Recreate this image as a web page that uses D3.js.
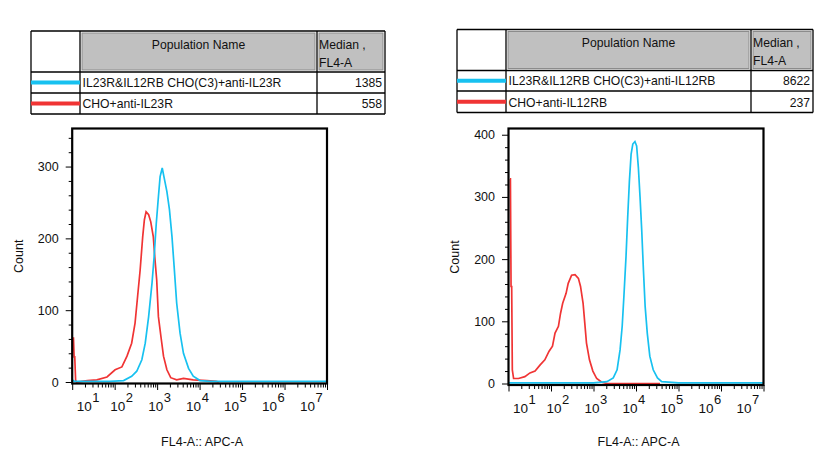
<!DOCTYPE html>
<html><head><meta charset="utf-8">
<script src="https://cdn.jsdelivr.net/npm/d3@7"></script>
<style>
body{margin:0;background:#fff;}
svg text{font-family:"Liberation Sans",Arial,sans-serif;fill:#111;}
</style></head><body>
<svg id="c" width="828" height="469"></svg>
<script>
// ---------- data ----------
const leftPopulations = ["IL23R&IL12RB CHO(C3)+anti-IL23R", "CHO+anti-IL23R"];
const leftMedians = [1385, 558];
const rightPopulations = ["IL23R&IL12RB CHO(C3)+anti-IL12RB", "CHO+anti-IL12RB"];
const rightMedians = [8622, 237];
const tableHeader = ["Population Name", "Median ,", "FL4-A"];
const decadeExponents = [1, 2, 3, 4, 5, 6, 7];
const yTicksLeft = [0, 100, 200, 300];
const yTicksRight = [0, 100, 200, 300, 400];
const yAxisTitle = "Count";
const xAxisTitle = "FL4-A:: APC-A";
const seriesColors = ["#17c1f0", "#f03434"]; // blue (sample), red (control)

// histograms: log10(FL4-A) positions and counts
const leftBlueLog = [1.0, 1.05, 1.5, 1.89, 2.21, 2.40, 2.52, 2.64, 2.72, 2.80, 2.88, 2.93, 2.98, 3.03, 3.07, 3.12, 3.16, 3.23, 3.29, 3.35, 3.40, 3.46, 3.54, 3.62, 3.74, 3.85, 4.01, 4.25, 5.0, 7.0];
const leftBlueCount = [3, 1, 1, 1, 2, 8, 15, 31, 54, 91, 138, 175, 221, 258, 286, 298, 286, 265, 240, 202, 161, 110, 68, 40, 19, 8, 2, 1, 1, 1];
const leftRedLog = [1.02, 1.03, 1.045, 1.06, 1.08, 1.1, 1.36, 1.58, 1.82, 2.01, 2.17, 2.29, 2.40, 2.48, 2.54, 2.60, 2.66, 2.70, 2.74, 2.80, 2.85, 2.91, 2.95, 2.99, 3.03, 3.09, 3.15, 3.23, 3.32, 3.46, 3.62, 3.85, 4.17, 4.39, 4.45];
const leftRedCount = [61, 61, 35, 35, 3, 0, 2, 3, 7, 17, 21, 36, 54, 82, 119, 156, 202, 226, 237, 233, 223, 202, 170, 142, 91, 63, 36, 17, 6, 3, 5, 3, 2, 1, 0];
const rightBlueLog = [1.0, 2.0, 3.0, 3.315, 3.465, 3.555, 3.625, 3.675, 3.715, 3.765, 3.805, 3.845, 3.885, 3.925, 3.975, 4.015, 4.055, 4.095, 4.135, 4.175, 4.215, 4.265, 4.325, 4.405, 4.505, 4.605, 5.0, 7.0];
const rightBlueCount = [1, 1, 1, 3, 9, 22, 54, 92, 140, 204, 268, 326, 369, 385, 389, 382, 348, 300, 246, 182, 124, 81, 44, 22, 9, 3, 1, 1];
const rightRedLog = [1.035, 1.045, 1.06, 1.075, 1.09, 1.12, 1.235, 1.385, 1.505, 1.625, 1.745, 1.855, 1.955, 2.035, 2.095, 2.175, 2.225, 2.275, 2.355, 2.405, 2.485, 2.565, 2.645, 2.695, 2.755, 2.795, 2.835, 2.905, 2.985, 3.075, 3.195, 3.315, 4.565];
const rightRedCount = [329, 329, 156, 156, 22, 8, 8, 11, 17, 20, 30, 38, 52, 60, 81, 92, 113, 129, 145, 161, 174, 175, 169, 156, 129, 97, 65, 38, 20, 8, 2, 0, 0];

// ---------- layout ----------
const panels = [
  {
    table: {x0: 31, x1: 80, x2: 317, x3: 385, y0: 31, y1: 72, y2: 93, y3: 114},
    plot: {x: 72.2, y: 128.5, w: 254.8, bottom: 382},
    yMax: 353, yTicks: yTicksLeft,
    pops: leftPopulations, meds: leftMedians,
    series: [[leftRedLog, leftRedCount, seriesColors[1]], [leftBlueLog, leftBlueCount, seriesColors[0]]],
    yTitleX: 23
  },
  {
    table: {x0: 457, x1: 506, x2: 751, x3: 813, y0: 29.5, y1: 70.5, y2: 91, y3: 112.5},
    plot: {x: 508.5, y: 128.5, w: 255, bottom: 383.5},
    yMax: 410, yTicks: yTicksRight,
    pops: rightPopulations, meds: rightMedians,
    series: [[rightRedLog, rightRedCount, seriesColors[1]], [rightBlueLog, rightBlueCount, seriesColors[0]]],
    yTitleX: 459
  }
];

const svg = d3.select("#c");
const TABLE_FS = 12.2;

panels.forEach((p, pi) => {
  const g = svg.append("g");
  // ---- table ----
  const t = p.table;
  g.append("rect").attr("x", t.x1 + 2).attr("y", t.y0 + 2).attr("width", t.x2 - t.x1 - 4).attr("height", t.y1 - t.y0 - 4)
    .attr("fill", "#c0c0c0").attr("stroke", "#8c8c8c").attr("stroke-width", 1);
  g.append("rect").attr("x", t.x2 + 2).attr("y", t.y0 + 2).attr("width", t.x3 - t.x2 - 4).attr("height", t.y1 - t.y0 - 4)
    .attr("fill", "#c0c0c0").attr("stroke", "#8c8c8c").attr("stroke-width", 1);
  const lines = [
    [t.x0, t.y0, t.x3, t.y0], [t.x0, t.y3, t.x3, t.y3], [t.x0, t.y0, t.x0, t.y3], [t.x3, t.y0, t.x3, t.y3],
    [t.x1, t.y0, t.x1, t.y3], [t.x2, t.y0, t.x2, t.y3], [t.x0, t.y1, t.x3, t.y1], [t.x0, t.y2, t.x3, t.y2]
  ];
  g.selectAll(null).data(lines).enter().append("line")
    .attr("x1", d => d[0]).attr("y1", d => d[1]).attr("x2", d => d[2]).attr("y2", d => d[3])
    .attr("stroke", "#000").attr("stroke-width", 1.3);
  g.append("text").attr("x", (t.x1 + t.x2) / 2).attr("y", t.y0 + 17.5).attr("text-anchor", "middle")
    .attr("font-size", TABLE_FS).text(tableHeader[0]);
  g.append("text").attr("x", t.x2 + 2).attr("y", t.y0 + 17.5).attr("font-size", TABLE_FS).text(tableHeader[1]);
  g.append("text").attr("x", t.x2 + 2).attr("y", t.y0 + 35.5).attr("font-size", TABLE_FS).text(tableHeader[2]);
  const rowBottoms = [t.y2, t.y3];
  const rowTops = [t.y1, t.y2];
  p.pops.forEach((name, i) => {
    const cy = (rowTops[i] + rowBottoms[i]) / 2;
    g.append("line").attr("x1", t.x0).attr("x2", t.x1).attr("y1", cy).attr("y2", cy)
      .attr("stroke", seriesColors[i]).attr("stroke-width", 4);
    g.append("text").attr("x", t.x1 + 2.5).attr("y", rowBottoms[i] - 6).attr("font-size", TABLE_FS).text(name);
    g.append("text").attr("x", t.x3 - 3).attr("y", rowBottoms[i] - 6).attr("font-size", TABLE_FS)
      .attr("text-anchor", "end").text(p.meds[i]);
  });

  // ---- plot ----
  const P = p.plot;
  const x = d3.scaleLog().domain([10, 1e7]).range([P.x, P.x + P.w]);
  const y = d3.scaleLinear().domain([0, p.yMax]).range([P.bottom, P.y]);
  const clipId = "clip" + pi;
  svg.append("clipPath").attr("id", clipId).append("rect")
    .attr("x", P.x).attr("y", P.y).attr("width", P.w).attr("height", P.bottom - P.y + 2);

  const line = d3.line().x(d => x(Math.pow(10, d[0]))).y(d => y(d[1]));
  p.series.forEach(([lg, ct, col]) => {
    const pts = lg.map((v, i) => [v, ct[i]]);
    g.append("path").attr("clip-path", `url(#${clipId})`).attr("d", line(pts))
      .attr("fill", "none").attr("stroke", col).attr("stroke-width", 1.7).attr("stroke-linejoin", "miter");
  });

  // frame
  const axisY = P.bottom + 1.5;
  g.append("rect").attr("x", P.x).attr("y", P.y).attr("width", P.w).attr("height", axisY - P.y)
    .attr("fill", "none").attr("stroke", "#000").attr("stroke-width", 2.2);

  // x axis ticks
  const majorX = decadeExponents.map(k => Math.pow(10, k));
  const minorX = [];
  decadeExponents.slice(0, -1).forEach(k => { for (let m = 2; m <= 9; m++) minorX.push(m * Math.pow(10, k)); });
  const xMinor = g.append("g").attr("transform", `translate(0,${axisY})`)
    .call(d3.axisBottom(x).tickValues(minorX).tickSize(4).tickFormat(""));
  const xMajor = g.append("g").attr("transform", `translate(0,${axisY})`)
    .call(d3.axisBottom(x).tickValues(majorX).tickSize(6.5).tickFormat(""));
  [xMinor, xMajor].forEach(a => { a.select(".domain").remove(); a.selectAll("line").attr("stroke", "#000"); });

  // decade labels (FlowJo-style compressed placement)
  const labelX = d3.scaleLinear().domain([2, 7]).range([P.x + P.w / 6 - 4.5, P.x + P.w - 27]);
  decadeExponents.forEach(k => {
    const lx = k === 1 ? P.x + 4.5 : labelX(k);
    const tx = g.append("text").attr("x", lx).attr("y", axisY + 27.5).attr("font-size", 13.5);
    tx.append("tspan").text("10");
    tx.append("tspan").attr("dy", -9).attr("dx", 0.5).attr("font-size", 13).text(String(k));
  });

  // y axis
  const minorY = d3.range(0, p.yMax + 1, 20).filter(v => v % 100 !== 0);
  const yMinor = g.append("g").attr("transform", `translate(${P.x},0)`)
    .call(d3.axisLeft(y).tickValues(minorY).tickSize(3.5).tickFormat(""));
  const yMajor = g.append("g").attr("transform", `translate(${P.x},0)`)
    .call(d3.axisLeft(y).tickValues(p.yTicks).tickSize(6.5).tickPadding(7));
  [yMinor, yMajor].forEach(a => { a.select(".domain").remove(); a.selectAll("line").attr("stroke", "#000"); });
  yMajor.selectAll("text").attr("font-size", 12.5).attr("fill", "#111")
    .attr("font-family", '"Liberation Sans",Arial,sans-serif');

  // titles
  g.append("text").attr("transform", `translate(${p.yTitleX},${(P.y + P.bottom) / 2 + 1}) rotate(-90)`)
    .attr("text-anchor", "middle").attr("font-size", 12.5).text(yAxisTitle);
  g.append("text").attr("x", P.x + P.w / 2 + 2.5).attr("y", 446).attr("text-anchor", "middle")
    .attr("font-size", 12.5).text(xAxisTitle);
});
</script>
</body></html>
